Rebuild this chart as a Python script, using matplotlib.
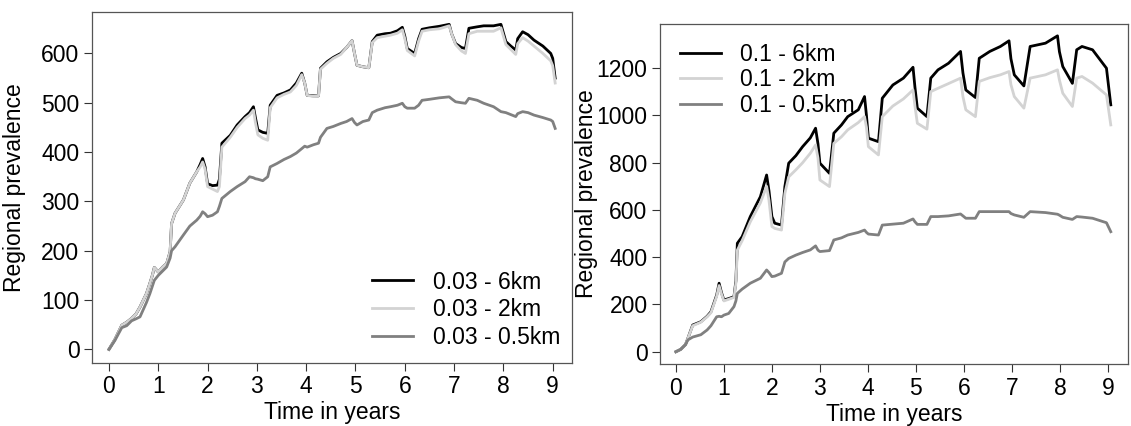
import matplotlib
matplotlib.use("Agg")
import matplotlib.pyplot as plt

plt.rcParams['font.family'] = ['Liberation Sans', 'DejaVu Sans']

# --- data: left panel (transmission 0.03) ---
t_left = [0, 0.12, 0.26, 0.36, 0.46, 0.55, 0.63, 0.76, 0.83, 0.88, 0.92, 1.0, 1.1, 1.17, 1.24,
          1.27, 1.34, 1.51, 1.64, 1.78, 1.85, 1.9, 1.95, 2.0, 2.1, 2.2, 2.24, 2.29, 2.46, 2.6,
          2.76, 2.85, 2.93, 2.97, 3.02, 3.12, 3.22, 3.27, 3.41, 3.55, 3.68, 3.8, 3.91, 3.97, 4.02,
          4.15, 4.25, 4.29, 4.42, 4.55, 4.7, 4.82, 4.93, 4.98, 5.03, 5.15, 5.27, 5.34, 5.44, 5.6,
          5.71, 5.85, 5.95, 6.0, 6.05, 6.2, 6.28, 6.35, 6.5, 6.7, 6.9, 6.95, 7.03, 7.15, 7.23,
          7.3, 7.47, 7.6, 7.8, 7.95, 8.05, 8.15, 8.25, 8.29, 8.39, 8.5, 8.62, 8.8, 8.96, 9.0, 9.05]
left_6km = [0, 20, 49, 55, 63, 72, 86, 113, 134, 150, 166, 157, 168, 174, 198,
            255, 276, 303, 337, 360, 375, 387, 370, 336, 332, 333, 345, 418, 434, 455,
            472, 480, 492, 470, 445, 440, 438, 495, 515, 520, 526, 540, 560, 540, 515,
            514, 514, 570, 583, 592, 600, 612, 626, 600, 576, 573, 571, 624, 637, 640,
            641, 646, 653, 635, 610, 600, 630, 649, 652, 655, 659, 640, 620, 612, 610,
            651, 654, 656, 656, 659, 624, 615, 607, 630, 644, 638, 627, 615, 600, 590, 550]
left_2km = [0, 20, 49, 55, 63, 72, 86, 113, 134, 150, 166, 157, 168, 174, 198,
            255, 276, 303, 337, 360, 370, 380, 365, 330, 325, 320, 330, 410, 430, 450,
            468, 475, 485, 460, 435, 428, 424, 490, 510, 517, 522, 535, 557, 540, 515,
            513, 514, 568, 580, 590, 598, 612, 626, 600, 576, 573, 571, 622, 632, 635,
            637, 641, 648, 630, 606, 595, 625, 645, 648, 650, 656, 640, 618, 605, 600,
            640, 645, 645, 645, 652, 618, 608, 598, 620, 632, 625, 615, 600, 585, 575, 540]
left_05km = [0, 18, 44, 48, 58, 62, 66, 95, 113, 128, 140, 150, 160, 167, 185,
             200, 208, 232, 250, 262, 270, 279, 275, 269, 272, 279, 290, 306, 320, 330,
             340, 350, 348, 346, 345, 342, 350, 370, 377, 385, 391, 398, 407, 412, 410,
             415, 418, 430, 448, 452, 458, 462, 468, 460, 455, 462, 465, 480, 485, 490,
             492, 495, 499, 492, 489, 489, 495, 505, 507, 510, 512, 508, 502, 500, 499,
             509, 505, 499, 492, 482, 480, 476, 472, 478, 482, 480, 475, 470, 465, 462, 448]

# --- data: right panel (transmission 0.1) ---
t_right = [0, 0.1, 0.2, 0.25, 0.35, 0.52, 0.65, 0.73, 0.85, 0.9, 0.95, 1.0, 1.1, 1.21, 1.25,
           1.28, 1.38, 1.55, 1.76, 1.89, 1.94, 2.0, 2.06, 2.2, 2.27, 2.35, 2.5, 2.64, 2.8, 2.91,
           2.96, 3.0, 3.2, 3.29, 3.45, 3.58, 3.8, 3.93, 3.97, 4.01, 4.22, 4.3, 4.52, 4.74, 4.94,
           4.98, 5.03, 5.23, 5.31, 5.46, 5.68, 5.93, 5.98, 6.04, 6.24, 6.32, 6.54, 6.76, 6.94, 6.98,
           7.05, 7.25, 7.38, 7.7, 7.95, 7.99, 8.06, 8.26, 8.35, 8.46, 8.68, 8.97, 9.06]
right_6km = [0, 10, 30, 57, 113, 127, 150, 169, 240, 290, 250, 219, 225, 233, 300,
             459, 487, 572, 656, 748, 680, 572, 544, 536, 699, 798, 830, 868, 905, 946,
             880, 798, 755, 925, 960, 995, 1024, 1080, 1000, 904, 889, 1073, 1129, 1158, 1204,
             1120, 1031, 995, 1158, 1193, 1221, 1271, 1180, 1108, 1076, 1242, 1271, 1292, 1316, 1240,
             1172, 1125, 1292, 1306, 1337, 1270, 1207, 1136, 1278, 1292, 1278, 1200, 1045]
right_2km = [0, 10, 30, 57, 110, 125, 148, 165, 235, 280, 245, 215, 222, 230, 290,
             430, 470, 550, 630, 700, 640, 530, 522, 515, 670, 740, 770, 800, 840, 875,
             820, 727, 699, 882, 910, 939, 970, 995, 950, 868, 833, 995, 1040, 1070, 1108,
             1040, 967, 942, 1101, 1115, 1135, 1158, 1080, 1024, 995, 1144, 1160, 1172, 1186, 1130,
             1080, 1031, 1158, 1172, 1193, 1150, 1094, 1038, 1158, 1165, 1137, 1087, 960]
right_05km = [0, 10, 30, 50, 62, 72, 92, 110, 148, 150, 148, 155, 162, 191, 215,
              247, 265, 290, 311, 346, 335, 318, 320, 332, 380, 395, 409, 420, 431, 448,
              430, 424, 428, 473, 482, 494, 505, 515, 505, 498, 494, 536, 540, 544, 562,
              550, 539, 539, 572, 572, 575, 583, 575, 565, 565, 593, 593, 593, 593, 585,
              579, 569, 593, 589, 582, 578, 569, 560, 572, 570, 565, 546, 508]

labels_left = ['0.03 - 6km', '0.03 - 2km', '0.03 - 0.5km']
labels_right = ['0.1 - 6km', '0.1 - 2km', '0.1 - 0.5km']
colors = ['black', '#d3d3d3', '#808080']

fs = 16.5
fig = plt.figure(figsize=(11.31, 4.26), dpi=100)
ax1 = fig.add_axes([0.0813, 0.1486, 0.4244, 0.8232])
ax2 = fig.add_axes([0.5836, 0.1455, 0.4138, 0.7981])


def style(ax, series, t, labels):
    for ys, c, lab in zip(series, colors, labels):
        ax.plot(t, ys, color=c, lw=2.0, label=lab, solid_joinstyle='round')
    for sp in ax.spines.values():
        sp.set_color('#555555')
        sp.set_linewidth(0.9)
    ax.tick_params(direction='out', length=5.5, width=0.8, color='#333333',
                   labelsize=fs, pad=3.5)
    ax.set_xticks(range(10))
    ax.set_xlabel('Time in years', fontsize=fs)
    ax.set_ylabel('Regional prevalence', fontsize=fs)


style(ax1, [left_6km, left_2km, left_05km], t_left, labels_left)
ax1.set_xlim(-0.345, 9.39)
ax1.set_ylim(-27, 684)
ax1.set_yticks(range(0, 700, 100))
ax1.yaxis.set_label_coords(-0.1375, 0.5)
ax1.xaxis.set_label_coords(0.5, -0.11)
ax1.legend(loc='lower left', bbox_to_anchor=(0.583, 0.04), frameon=False, fontsize=fs,
           handlelength=1.8, handletextpad=0.85, labelspacing=0.2, borderpad=0,
           borderaxespad=0)

style(ax2, [right_6km, right_2km, right_05km], t_right, labels_right)
ax2.set_xlim(-0.33, 9.42)
ax2.set_ylim(-52, 1387)
ax2.set_yticks(range(0, 1400, 200))
ax2.yaxis.set_label_coords(-0.133, 0.5)
ax2.xaxis.set_label_coords(0.5, -0.115)
ax2.legend(loc='upper left', bbox_to_anchor=(0.042, 0.944), frameon=False, fontsize=fs,
           handlelength=1.8, handletextpad=0.85, labelspacing=0.1, borderpad=0,
           borderaxespad=0)

fig.savefig('out.png', dpi=100)
